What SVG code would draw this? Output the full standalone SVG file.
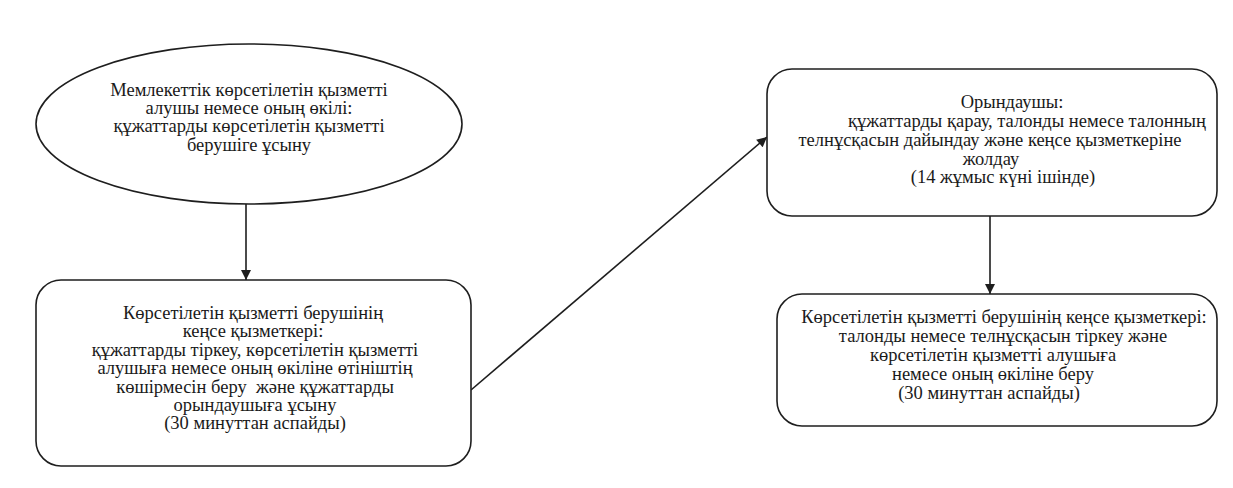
<svg xmlns="http://www.w3.org/2000/svg" width="1233" height="488" viewBox="0 0 1233 488">
<style>
.shape{fill:#fff;stroke:#1e1e1e;stroke-width:1.6}
.t{font-family:"Liberation Serif","Times New Roman",serif;font-size:18.5px;fill:#1a1a1a;text-anchor:middle;white-space:pre}
.c{stroke:#1e1e1e;stroke-width:1.6;fill:none}
</style>
<defs>
<marker id="ah" viewBox="0 0 10 10" refX="10" refY="5" markerWidth="11" markerHeight="10" markerUnits="userSpaceOnUse" orient="auto">
<path d="M0,0 L10,5 L0,10 z" fill="#1e1e1e"/>
</marker>
</defs>
<rect width="1233" height="488" fill="#fff"/>
<g id="connectors">
<line class="c" x1="246" y1="204" x2="246" y2="280" marker-end="url(#ah)"/>
<line class="c" x1="471" y1="390" x2="767" y2="137" marker-end="url(#ah)"/>
<line class="c" x1="990" y1="216" x2="990" y2="294" marker-end="url(#ah)"/>
</g>
<g id="node1">
<ellipse class="shape" cx="249" cy="124" rx="213" ry="80"/>
<text class="t" x="249" y="96">Мемлекеттік көрсетілетін қызметті</text>
<text class="t" x="249" y="114">алушы немесе оның өкілі:</text>
<text class="t" x="249" y="132">құжаттарды көрсетілетін қызметті</text>
<text class="t" x="249" y="151">берушіге ұсыну</text>
</g>
<g id="node2">
<rect class="shape" x="36" y="280" width="435" height="186" rx="25" ry="25"/>
<text class="t" x="253" y="319">Көрсетілетін қызметті берушінің</text>
<text class="t" x="253" y="337">кеңсе қызметкері:</text>
<text class="t" x="255" y="356">құжаттарды тіркеу, көрсетілетін қызметті</text>
<text class="t" x="255" y="374">алушыға немесе оның өкіліне өтініштің</text>
<text class="t" x="255" y="393">көшірмесін беру  және құжаттарды</text>
<text class="t" x="255" y="411">орындаушыға ұсыну</text>
<text class="t" x="255" y="429">(30 минуттан аспайды)</text>
</g>
<g id="node3">
<rect class="shape" x="767" y="69" width="450" height="147" rx="25" ry="25"/>
<text class="t" x="1012" y="108">Орындаушы:</text>
<text class="t" x="1027" y="127">құжаттарды қарау, талонды немесе талонның</text>
<text class="t" x="990" y="146">телнұсқасын дайындау және кеңсе қызметкеріне</text>
<text class="t" x="991" y="165">жолдау</text>
<text class="t" x="1003" y="183">(14 жұмыс күні ішінде)</text>
</g>
<g id="node4">
<rect class="shape" x="777" y="294" width="440" height="132" rx="25" ry="25"/>
<text class="t" x="1004" y="323">Көрсетілетін қызметті берушінің кеңсе қызметкері:</text>
<text class="t" x="1003" y="342">талонды немесе телнұсқасын тіркеу және</text>
<text class="t" x="993" y="361">көрсетілетін қызметті алушыға</text>
<text class="t" x="993" y="380">немесе оның өкіліне беру</text>
<text class="t" x="989" y="399">(30 минуттан аспайды)</text>
</g>
</svg>
